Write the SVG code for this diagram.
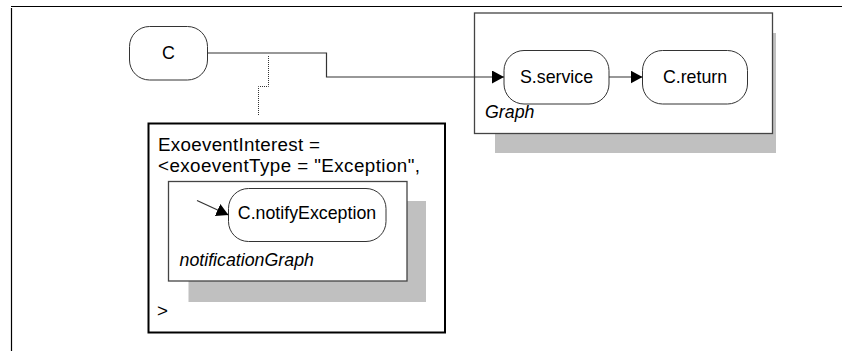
<svg xmlns="http://www.w3.org/2000/svg" width="842" height="351" viewBox="0 0 842 351">
<style>
text{font-family:"Liberation Sans",Arial,sans-serif;font-size:17.8px;fill:#000}
.it{font-style:italic}
.big{font-size:18.8px}
.node{fill:#fff;stroke:#333;stroke-width:1}
.shadow{fill:#c0c0c0}
.conn{fill:none;stroke:#333;stroke-width:1.2}
</style>
<defs>
<marker id="ah" markerUnits="userSpaceOnUse" markerWidth="13" markerHeight="13" viewBox="0 0 13 13" refX="12" refY="6.5" orient="auto">
<path d="M0,0 L12,6.5 L0,13 Z" fill="#000"/>
</marker>
</defs>
<g id="frame">
<line x1="11" y1="6.5" x2="842" y2="6.5" stroke="#000" stroke-width="1.2"/>
<line x1="11.5" y1="8" x2="11.5" y2="351" stroke="#000" stroke-width="1.2"/>
</g>
<g id="graph">
<rect class="shadow" x="495" y="33" width="281" height="120"/>
<rect x="474.5" y="13" width="298" height="120.5" fill="#fff" stroke="#444" stroke-width="1.3"/>
<text class="it" x="485" y="118">Graph</text>
</g>
<g id="exo">
<rect x="148.5" y="123.5" width="296.5" height="209" fill="#fff" stroke="#000" stroke-width="2"/>
<text class="big" x="158" y="151" textLength="162" lengthAdjust="spacing">ExoeventInterest =</text>
<text class="big" x="158" y="172" textLength="262" lengthAdjust="spacing">&lt;exoeventType = "Exception",</text>
<text class="big" x="157" y="317">&gt;</text>
</g>
<g id="notificationGraph">
<rect class="shadow" x="188.5" y="201" width="237.5" height="101"/>
<rect x="168.5" y="181.5" width="238.5" height="99.5" fill="#fff" stroke="#444" stroke-width="1.3"/>
<text class="it" x="179.5" y="266">notificationGraph</text>
</g>
<g id="C">
<rect class="node" x="129.5" y="26.5" width="78" height="53.5" rx="20"/>
<text x="168.5" y="58.5" text-anchor="middle">C</text>
</g>
<g id="S.service">
<rect class="node" x="504" y="50.5" width="105" height="53.5" rx="20"/>
<text x="556.5" y="83" text-anchor="middle">S.service</text>
</g>
<g id="C.return">
<rect class="node" x="642.5" y="50.5" width="105" height="53.5" rx="20"/>
<text x="695" y="83" text-anchor="middle">C.return</text>
</g>
<g id="C.notifyException">
<rect class="node" x="228.5" y="188.5" width="157.5" height="53" rx="20"/>
<text x="307" y="219" text-anchor="middle">C.notifyException</text>
</g>
<g id="connectors">
<polyline class="conn" points="207.5,53 326.5,53 326.5,77 504,77" marker-end="url(#ah)"/>
<line class="conn" x1="609" y1="77" x2="642.5" y2="77" marker-end="url(#ah)"/>
<line class="conn" x1="197" y1="200.5" x2="228.5" y2="215" stroke="#000" stroke-width="1.6" marker-end="url(#ah)"/>
<polyline points="268.5,56 268.5,86.5 258.5,86.5 258.5,115" fill="none" stroke="#333" stroke-width="1" stroke-dasharray="1,1"/>
</g>
</svg>
